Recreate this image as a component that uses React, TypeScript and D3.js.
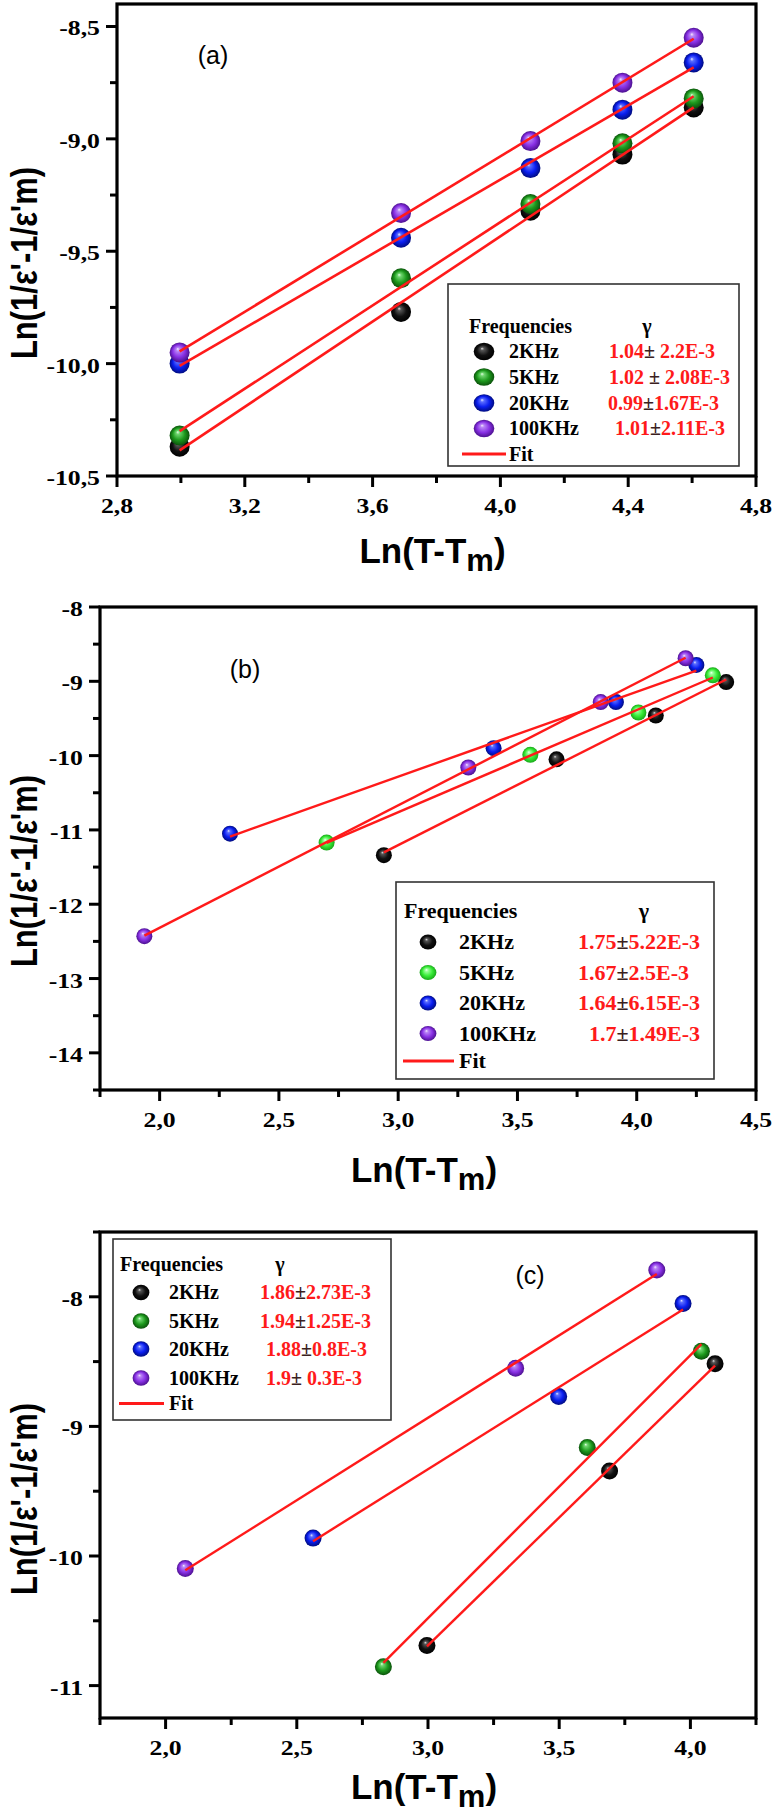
import React from 'react';
import * as d3 from 'd3';

// ---------- DATA ----------
const freqLabels = ['2KHz', '5KHz', '20KHz', '100KHz'];

// Panel (a)
const aX = [2.996, 3.689, 4.094, 4.382, 4.605];
const a2KHz = [-10.37, -9.77, -9.32, -9.07, -8.86];
const a5KHz = [-10.32, -9.62, -9.29, -9.02, -8.82];
const a20KHz = [-10.0, -9.44, -9.13, -8.87, -8.66];
const a100KHz = [-9.95, -9.33, -9.01, -8.75, -8.55];
const aGamma = ['1.04± 2.2E-3', '1.02 ± 2.08E-3', '0.99±1.67E-3', '1.01±2.11E-3'];
const aXTicks = [2.8, 3.2, 3.6, 4.0, 4.4, 4.8];
const aXTickLabels = ['2,8', '3,2', '3,6', '4,0', '4,4', '4,8'];
const aYTicks = [-10.5, -10.0, -9.5, -9.0, -8.5];
const aYTickLabels = ['-10,5', '-10,0', '-9,5', '-9,0', '-8,5'];

// Panel (b)
const b2KHzX = [2.94, 3.664, 4.08, 4.375];
const b2KHzY = [-11.34, -10.05, -9.46, -9.01];
const b5KHzX = [2.7, 3.554, 4.007, 4.319];
const b5KHzY = [-11.17, -9.99, -9.42, -8.92];
const b20KHzX = [2.295, 3.4, 3.913, 4.25];
const b20KHzY = [-11.05, -9.9, -9.28, -8.78];
const b100KHzX = [1.936, 3.294, 3.849, 4.205];
const b100KHzY = [-12.43, -10.16, -9.28, -8.69];
const bGamma = ['1.75±5.22E-3', '1.67±2.5E-3', '1.64±6.15E-3', '1.7±1.49E-3'];
const bXTicks = [2.0, 2.5, 3.0, 3.5, 4.0, 4.5];
const bXTickLabels = ['2,0', '2,5', '3,0', '3,5', '4,0', '4,5'];
const bYTicks = [-14, -13, -12, -11, -10, -9, -8];
const bYTickLabels = ['-14', '-13', '-12', '-11', '-10', '-9', '-8'];

// Panel (c)
const c2KHzX = [2.996, 3.692, 4.094];
const c2KHzY = [-10.69, -9.345, -8.517];
const c5KHzX = [2.83, 3.607, 4.042];
const c5KHzY = [-10.855, -9.162, -8.42];
const c20KHzX = [2.562, 3.498, 3.972];
const c20KHzY = [-9.862, -8.769, -8.052];
const c100KHzX = [2.075, 3.334, 3.872];
const c100KHzY = [-10.097, -8.552, -7.793];
const cGamma = ['1.86±2.73E-3', '1.94±1.25E-3', '1.88±0.8E-3', '1.9± 0.3E-3'];
const cXTicks = [2.0, 2.5, 3.0, 3.5, 4.0];
const cXTickLabels = ['2,0', '2,5', '3,0', '3,5', '4,0'];
const cYTicks = [-11, -10, -9, -8];
const cYTickLabels = ['-11', '-10', '-9', '-8'];

// ---------- STYLE ----------
const SERIF = "'Liberation Serif', 'Times New Roman', serif";
const SANS = "'Liberation Sans', Arial, sans-serif";
const RED = '#ff1a1a';
const TICK_FONT = 22;
const TICK_SX = 1.17;

const balls: Record<string, [string, string, string, string]> = {
  black: ['#e0e0e0', '#555555', '#111111', '#000000'],
  green: ['#e8ffe8', '#6fd66f', '#1d9a1d', '#0b520b'],
  lime: ['#f4fff4', '#9cff9c', '#38ec38', '#18a818'],
  blue: ['#e8ecff', '#5a6cff', '#0a1ef0', '#000c80'],
  purple: ['#f6ecff', '#b985f5', '#8a32e6', '#4c1090'],
};

function fitLine(xs: number[], ys: number[]) {
  const mx = d3.mean(xs)!;
  const my = d3.mean(ys)!;
  const sxy = d3.sum(xs, (x, i) => (x - mx) * (ys[i] - my));
  const sxx = d3.sum(xs, (x) => (x - mx) * (x - mx));
  const m = sxy / sxx;
  const x0 = d3.min(xs)!;
  const x1 = d3.max(xs)!;
  return [
    [x0, my + m * (x0 - mx)],
    [x1, my + m * (x1 - mx)],
  ] as [number, number][];
}

type Series = { x: number[]; y: number[]; color: string };

type PanelCfg = {
  box: { left: number; right: number; top: number; bottom: number };
  xDomain: [number, number];
  yDomain: [number, number];
  xTicks: number[];
  xTickLabels: string[];
  yTicks: number[];
  yTickLabels: string[];
  xMinorStep: number;
  yMinorStep: number;
  series: Series[];
  r: number;
  lineW: number;
  tag: string;
  tagPos: [number, number];
  xLabelY: number;
  yLabelCY: number;
  gamma: string[];
  legend: {
    box: [number, number, number, number];
    font: number;
    headerY: number;
    headerX: number;
    gammaX: number;
    rowsY: number[];
    markerX: number;
    markerRx: number;
    markerRy: number;
    labelX: number;
    valueX: number[];
    valueAnchor: string[];
    fitY: number;
    fitX: [number, number];
    fitTextX: number;
  };
};

function minorTicks(domain: [number, number], step: number, majors: number[]) {
  const out: number[] = [];
  const start = Math.ceil(domain[0] / step - 1e-6) * step;
  for (let v = start; v <= domain[1] + 1e-6; v += step) {
    if (!majors.some((m) => Math.abs(m - v) < 1e-6)) out.push(v);
  }
  return out;
}

function GammaText({ s, x, y, anchor, font }: any) {
  const parts = s.split('±');
  return (
    <text x={x} y={y} textAnchor={anchor} fontFamily={SERIF} fontWeight="bold" fontSize={font} style={{ whiteSpace: 'pre' }}>
      <tspan fill={RED}>{parts[0]}</tspan>
      <tspan fill="#3a2020">±</tspan>
      <tspan fill={RED}>{parts[1]}</tspan>
    </text>
  );
}

function Panel({ cfg }: { cfg: PanelCfg }) {
  const { box } = cfg;
  const x = d3.scaleLinear().domain(cfg.xDomain).range([box.left, box.right]);
  const y = d3.scaleLinear().domain(cfg.yDomain).range([box.bottom, box.top]);
  const xMinor = minorTicks(cfg.xDomain, cfg.xMinorStep, cfg.xTicks);
  const yMinor = minorTicks(cfg.yDomain, cfg.yMinorStep, cfg.yTicks);
  const line = d3.line<[number, number]>().x((d) => x(d[0])).y((d) => y(d[1]));
  const L = cfg.legend;
  const cx = (box.left + box.right) / 2;
  return (
    <g>
      <rect x={box.left} y={box.top} width={box.right - box.left} height={box.bottom - box.top} fill="none" stroke="#000" strokeWidth={3.2} />
      {cfg.xTicks.map((t, i) => (
        <g key={'xt' + i}>
          <line x1={x(t)} x2={x(t)} y1={box.bottom} y2={box.bottom + 11} stroke="#000" strokeWidth={3} />
          <text
            transform={`translate(${x(t)},${box.bottom + 37}) scale(${TICK_SX},1)`}
            textAnchor="middle"
            fontFamily={SERIF}
            fontWeight="bold"
            fontSize={TICK_FONT}
          >
            {cfg.xTickLabels[i]}
          </text>
        </g>
      ))}
      {xMinor.map((t, i) => (
        <line key={'xm' + i} x1={x(t)} x2={x(t)} y1={box.bottom} y2={box.bottom + 7} stroke="#000" strokeWidth={3} />
      ))}
      {cfg.yTicks.map((t, i) => (
        <g key={'yt' + i}>
          <line x1={box.left - 11} x2={box.left} y1={y(t)} y2={y(t)} stroke="#000" strokeWidth={3} />
          <text
            transform={`translate(${box.left - 17},${y(t) + 9}) scale(${TICK_SX},1)`}
            textAnchor="end"
            fontFamily={SERIF}
            fontWeight="bold"
            fontSize={TICK_FONT}
          >
            {cfg.yTickLabels[i]}
          </text>
        </g>
      ))}
      {yMinor.map((t, i) => (
        <line key={'ym' + i} x1={box.left - 7} x2={box.left} y1={y(t)} y2={y(t)} stroke="#000" strokeWidth={3} />
      ))}
      {cfg.series.map((s, si) =>
        s.x.map((xv, i) => (
          <circle key={'p' + si + '-' + i} cx={x(xv)} cy={y(s.y[i])} r={cfg.r} fill={`url(#ball-${s.color})`} />
        ))
      )}
      {cfg.series.map((s, si) => (
        <path key={'f' + si} d={line(fitLine(s.x, s.y)) || ''} fill="none" stroke={RED} strokeWidth={cfg.lineW} />
      ))}
      <text x={cfg.tagPos[0]} y={cfg.tagPos[1]} textAnchor="middle" fontFamily={SANS} fontSize={25}>
        {cfg.tag}
      </text>
      <text x={cx - 4} y={cfg.xLabelY} textAnchor="middle" fontFamily={SANS} fontWeight="bold" fontSize={35}>
        Ln(T-T
        <tspan fontSize={31} dy={8}>m</tspan>
        <tspan dy={-8}>)</tspan>
      </text>
      <text
        transform={`translate(37,${cfg.yLabelCY}) rotate(-90) scale(1,1.2)`}
        textAnchor="middle"
        fontFamily={SANS}
        fontWeight="bold"
        fontSize={31}
      >
        Ln(1/ε'-1/ε'm)
      </text>
      <rect x={L.box[0]} y={L.box[1]} width={L.box[2] - L.box[0]} height={L.box[3] - L.box[1]} fill="#fff" stroke="#333" strokeWidth={1.6} />
      <text x={L.headerX} y={L.headerY} fontFamily={SERIF} fontWeight="bold" fontSize={L.font}>
        Frequencies
      </text>
      <text x={L.gammaX} y={L.headerY} textAnchor="middle" fontFamily={SERIF} fontWeight="bold" fontSize={L.font}>
        γ
      </text>
      {cfg.series.map((s, i) => (
        <g key={'lg' + i}>
          <ellipse cx={L.markerX} cy={L.rowsY[i]} rx={L.markerRx} ry={L.markerRy} fill={`url(#ball-${s.color})`} />
          <text x={L.labelX} y={L.rowsY[i] + L.font * 0.34} fontFamily={SERIF} fontWeight="bold" fontSize={L.font}>
            {freqLabels[i]}
          </text>
          <GammaText s={cfg.gamma[i]} x={L.valueX[i]} y={L.rowsY[i] + L.font * 0.34} anchor={L.valueAnchor[i]} font={L.font} />
        </g>
      ))}
      <line x1={L.fitX[0]} x2={L.fitX[1]} y1={L.fitY} y2={L.fitY} stroke={RED} strokeWidth={3} />
      <text x={L.fitTextX} y={L.fitY + L.font * 0.34} fontFamily={SERIF} fontWeight="bold" fontSize={L.font}>
        Fit
      </text>
    </g>
  );
}

const panelA: PanelCfg = {
  box: { left: 117, right: 756, top: 4, bottom: 476 },
  xDomain: [2.8, 4.8],
  yDomain: [-10.5, -8.4],
  xTicks: aXTicks,
  xTickLabels: aXTickLabels,
  yTicks: aYTicks,
  yTickLabels: aYTickLabels,
  xMinorStep: 0.2,
  yMinorStep: 0.25,
  series: [
    { x: aX, y: a2KHz, color: 'black' },
    { x: aX, y: a5KHz, color: 'green' },
    { x: aX, y: a20KHz, color: 'blue' },
    { x: aX, y: a100KHz, color: 'purple' },
  ],
  r: 10,
  lineW: 2.6,
  tag: '(a)',
  tagPos: [213, 64],
  xLabelY: 563,
  yLabelCY: 263,
  gamma: aGamma,
  legend: {
    box: [448, 284, 739, 466],
    font: 20,
    headerY: 333,
    headerX: 469,
    gammaX: 647,
    rowsY: [351.5, 377, 403, 428.5],
    markerX: 484,
    markerRx: 10.3,
    markerRy: 8.8,
    labelX: 509,
    valueX: [609, 609, 608, 615],
    valueAnchor: ['start', 'start', 'start', 'start'],
    fitY: 454,
    fitX: [462, 506],
    fitTextX: 509,
  },
};

const panelB: PanelCfg = {
  box: { left: 100, right: 756, top: 607, bottom: 1090 },
  xDomain: [1.75, 4.5],
  yDomain: [-14.5, -8],
  xTicks: bXTicks,
  xTickLabels: bXTickLabels,
  yTicks: bYTicks,
  yTickLabels: bYTickLabels,
  xMinorStep: 0.25,
  yMinorStep: 0.5,
  series: [
    { x: b2KHzX, y: b2KHzY, color: 'black' },
    { x: b5KHzX, y: b5KHzY, color: 'lime' },
    { x: b20KHzX, y: b20KHzY, color: 'blue' },
    { x: b100KHzX, y: b100KHzY, color: 'purple' },
  ],
  r: 8,
  lineW: 2.4,
  tag: '(b)',
  tagPos: [245, 678],
  xLabelY: 1182,
  yLabelCY: 871,
  gamma: bGamma,
  legend: {
    box: [396, 882, 714, 1079],
    font: 22,
    headerY: 918,
    headerX: 404,
    gammaX: 644,
    rowsY: [942, 972.5, 1003, 1033.5],
    markerX: 428,
    markerRx: 8.4,
    markerRy: 7.6,
    labelX: 459,
    valueX: [578, 578, 578, 700],
    valueAnchor: ['start', 'start', 'start', 'end'],
    fitY: 1061,
    fitX: [403, 454],
    fitTextX: 459,
  },
};

const panelC: PanelCfg = {
  box: { left: 100, right: 756, top: 1232, bottom: 1718 },
  xDomain: [1.75, 4.25],
  yDomain: [-11.25, -7.5],
  xTicks: cXTicks,
  xTickLabels: cXTickLabels,
  yTicks: cYTicks,
  yTickLabels: cYTickLabels,
  xMinorStep: 0.25,
  yMinorStep: 0.5,
  series: [
    { x: c2KHzX, y: c2KHzY, color: 'black' },
    { x: c5KHzX, y: c5KHzY, color: 'green' },
    { x: c20KHzX, y: c20KHzY, color: 'blue' },
    { x: c100KHzX, y: c100KHzY, color: 'purple' },
  ],
  r: 8.5,
  lineW: 2.4,
  tag: '(c)',
  tagPos: [530, 1284],
  xLabelY: 1799,
  yLabelCY: 1499,
  gamma: cGamma,
  legend: {
    box: [113, 1239, 391, 1420],
    font: 20,
    headerY: 1271,
    headerX: 120,
    gammaX: 280,
    rowsY: [1292.5, 1321, 1349, 1378],
    markerX: 141,
    markerRx: 8.4,
    markerRy: 7.8,
    labelX: 169,
    valueX: [260, 260, 266, 266],
    valueAnchor: ['start', 'start', 'start', 'start'],
    fitY: 1403.5,
    fitX: [119, 164],
    fitTextX: 169,
  },
};

export default function App() {
  return (
    <svg
      width={774}
      height={1817}
      viewBox="0 0 774 1817"
      style={{ position: 'absolute', left: 0, top: 0, background: '#fff' }}
    >
      <defs>
        {Object.entries(balls).map(([k, c]) => (
          <radialGradient key={k} id={`ball-${k}`} cx="0.5" cy="0.5" r="0.5" fx="0.4" fy="0.32">
            <stop offset="0" stopColor={c[0]} />
            <stop offset="0.18" stopColor={c[1]} />
            <stop offset="0.6" stopColor={c[2]} />
            <stop offset="1" stopColor={c[3]} />
          </radialGradient>
        ))}
      </defs>
      <rect x={0} y={0} width={774} height={1817} fill="#fff" />
      <Panel cfg={panelA} />
      <Panel cfg={panelB} />
      <Panel cfg={panelC} />
    </svg>
  );
}
